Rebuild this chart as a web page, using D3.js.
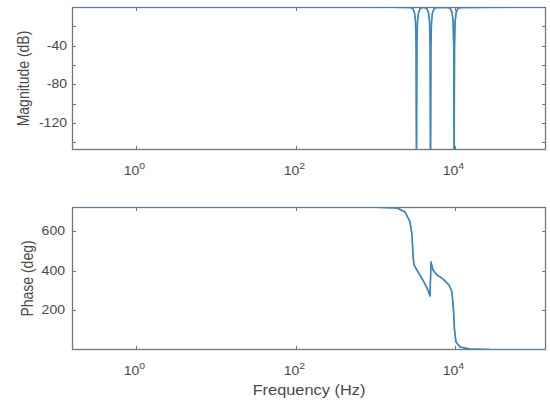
<!DOCTYPE html>
<html><head><meta charset="utf-8">
<script src="https://cdn.jsdelivr.net/npm/d3@7"></script>
<style>body{margin:0;background:#fff}svg{display:block}</style>
</head><body>
<script>
// ---- data ----
const freqRange = [0.1575, 138400];
const magFreq = [0.1575, 1000, 2767, 2975, 3107, 3196, 3252, 3290, 3328, 3386, 3484, 3639, 3912,
  4146, 4457, 4655, 4790, 4873, 4930, 4987, 5074, 5221, 5453, 5862,
  8200, 8816, 9207, 9472, 9638, 9750, 9863, 10036, 10325, 10784, 11593, 138400];
const magDb = [0, 0, -0.5, -2, -6, -15, -40, -170, -40, -15, -6, -2, -0.5,
  -0.5, -2, -6, -15, -40, -170, -40, -15, -6, -2, -0.5,
  -0.5, -2, -6, -15, -40, -170, -40, -15, -6, -2, -0.5, 0];
const phaseFreq = [0.1575, 100, 1000, 1875, 2360, 2729, 2890, 2974, 3062, 3436, 4086, 4585, 4860,
  5000, 5297, 5945, 7074, 8409, 9170, 9576, 9857, 10292, 11553, 15420, 27470, 138400];
const phaseDeg = [720, 720, 719, 715, 695, 645, 580, 478, 428, 393, 342, 302, 272,
  443, 403, 378, 358, 327, 292, 201, 101, 40, 15, 5, 2, 0];
const xTicks = [1, 100, 10000];
const xTickExp = ["0", "2", "4"];
const magTicks = [-140, -120, -100, -80, -60, -40, -20];
const magLabels = [-120, -80, -40];
const phaseTicks = [200, 400, 600];

const W = 550, H = 403;
const svg = d3.select("body").append("svg").attr("width", W).attr("height", H);
const left = 72, right = 546;
const x = d3.scaleLog().domain(freqRange).range([left, right]);
const lineColor = "#3a88c4", axisColor = "#767676", textColor = "#4a4a4a";
const font = "Liberation Sans, Arial, sans-serif";
const SX = 1.17;

function txt(px, py, anchor, size, rot) {
  const g = svg.append("g").attr("transform", rot
    ? `translate(${px},${py}) rotate(-90) scale(1,${SX})`
    : `translate(${px},${py}) scale(${SX},1)`);
  return g.append("text").attr("text-anchor", anchor).attr("font-family", font)
    .attr("font-size", size).attr("fill", textColor);
}

function panel(id, top, bottom, yDomain, yTicks, yLabels, xs, ys, ylabel, xlabY, ylabX, yLabGap) {
  const y = d3.scaleLinear().domain(yDomain).range([bottom, top]);
  svg.append("clipPath").attr("id", id).append("rect")
    .attr("x", left).attr("y", top).attr("width", right - left).attr("height", bottom - top);
  const g = svg.append("g");
  const line = d3.line().x(d => x(d[0])).y(d => y(d[1]));
  const pts = xs.map((f, i) => [f, ys[i]]);
  g.append("path").datum(pts).attr("clip-path", `url(#${id})`)
    .attr("fill", "none").attr("stroke", lineColor).attr("stroke-width", 1.6).attr("stroke-linejoin", "round")
    .attr("d", line);
  yTicks.forEach(t => {
    const yy = Math.round(y(t)) + 0.5;
    g.append("line").attr("x1", left).attr("x2", left + 4).attr("y1", yy).attr("y2", yy).attr("stroke", axisColor);
    g.append("line").attr("x1", right - 4).attr("x2", right).attr("y1", yy).attr("y2", yy).attr("stroke", axisColor);
  });
  yLabels.forEach(t => {
    txt(left - yLabGap, y(t) + 4, "end", 12, false).text(t);
  });
  xTicks.forEach((t, i) => {
    const xx = Math.round(x(t)) + 0.5;
    g.append("line").attr("x1", xx).attr("x2", xx).attr("y1", bottom).attr("y2", bottom - 4).attr("stroke", axisColor);
    g.append("line").attr("x1", xx).attr("x2", xx).attr("y1", top).attr("y2", top + 4).attr("stroke", axisColor);
    const tx = txt(xx - 2, xlabY, "middle", 12, false);
    tx.append("tspan").text("10");
    tx.append("tspan").attr("dy", -6).attr("font-size", 9).text(xTickExp[i]);
  });
  g.append("rect").attr("x", left + 0.5).attr("y", top + 0.5).attr("width", right - left - 1).attr("height", bottom - top - 1)
    .attr("fill", "none").attr("stroke", axisColor).attr("stroke-width", 1.3);
  g.append("path").datum(pts).attr("clip-path", `url(#${id})`)
    .attr("fill", "none").attr("stroke", lineColor).attr("stroke-width", 1.3).attr("opacity", 0.75)
    .attr("d", line);
  txt(ylabX, (top + bottom) / 2, "middle", 14, true).text(ylabel);
}

panel("c1", 7, 150, [-148, 0], magTicks, magLabels, magFreq, magDb, "Magnitude (dB)", 175, 29, 5);
panel("c2", 207, 350, [0, 720], phaseTicks, phaseTicks, phaseFreq, phaseDeg, "Phase (deg)", 375, 33, 7);
txt((left + right) / 2, 395, "middle", 14, false).text("Frequency (Hz)");
</script>
</body></html>
